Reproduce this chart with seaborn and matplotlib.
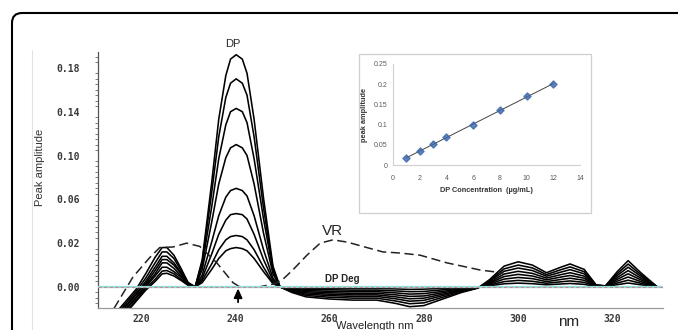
import numpy as np
import pandas as pd
import matplotlib
matplotlib.use("Agg")
import matplotlib.pyplot as plt
import seaborn as sns
from matplotlib.patches import FancyBboxPatch, Rectangle
from matplotlib.lines import Line2D

# ---------------- spectral data (first-derivative amplitudes) ----------------
# wavelength grids (nm) of the four regions of every DP trace
wl_left = [211, 214, 217, 219, 221, 223, 224.5, 225.5, 227, 228.5, 230, 231.5]
wl_peak = [233, 235, 236.5, 238, 239, 240.2, 241.5, 242.5, 244, 246, 248, 249.5]
wl_neg = [252, 255, 260, 265, 270, 274, 277, 280, 284, 288, 291.5]
wl_right = [294, 297, 300, 303, 306, 309, 311, 314, 316.5, 318.5, 321, 323.3, 326, 329.5]

# eight DP concentrations, highest first
dp_left = [
    [-0.042, -0.027, -0.012, -0.002, 0.012, 0.027, 0.036, 0.036, 0.029, 0.017, 0.004, 0.0],
    [-0.044, -0.029, -0.014, -0.004, 0.008, 0.022, 0.032, 0.032, 0.026, 0.015, 0.004, 0.0],
    [-0.046, -0.031, -0.016, -0.006, 0.005, 0.018, 0.028, 0.028, 0.022, 0.013, 0.003, 0.0],
    [-0.047, -0.032, -0.017, -0.007, 0.003, 0.015, 0.025, 0.025, 0.020, 0.012, 0.003, 0.0],
    [-0.049, -0.034, -0.019, -0.009, 0.0015, 0.012, 0.022, 0.022, 0.017, 0.010, 0.003, 0.0],
    [-0.050, -0.035, -0.020, -0.010, 0.0, 0.010, 0.018, 0.018, 0.014, 0.009, 0.002, 0.0],
    [-0.052, -0.037, -0.022, -0.012, -0.0015, 0.007, 0.0145, 0.015, 0.012, 0.007, 0.002, 0.0],
    [-0.053, -0.038, -0.023, -0.013, -0.003, 0.005, 0.012, 0.0125, 0.010, 0.006, 0.0015, 0.0],
]
dp_peak = [
    [0.025, 0.095, 0.153, 0.193, 0.208, 0.212, 0.208, 0.195, 0.153, 0.081, 0.019, 0.0],
    [0.023, 0.086, 0.137, 0.173, 0.186, 0.190, 0.186, 0.175, 0.137, 0.072, 0.017, 0.0],
    [0.020, 0.073, 0.117, 0.148, 0.160, 0.163, 0.160, 0.150, 0.117, 0.062, 0.015, 0.0],
    [0.016, 0.059, 0.094, 0.118, 0.127, 0.130, 0.127, 0.120, 0.094, 0.049, 0.012, 0.0],
    [0.011, 0.041, 0.065, 0.082, 0.088, 0.090, 0.088, 0.083, 0.065, 0.034, 0.008, 0.0],
    [0.008, 0.030, 0.048, 0.061, 0.066, 0.067, 0.066, 0.062, 0.048, 0.025, 0.006, 0.0],
    [0.006, 0.021, 0.034, 0.043, 0.046, 0.047, 0.046, 0.043, 0.034, 0.018, 0.004, 0.0],
    [0.004, 0.016, 0.026, 0.033, 0.035, 0.036, 0.035, 0.033, 0.026, 0.014, 0.003, 0.0],
]
dp_neg = [
    [-0.005, -0.009, -0.011, -0.012, -0.012, -0.015, -0.018, -0.017, -0.011, -0.005, -0.001],
    [-0.0042, -0.0077, -0.0094, -0.0102, -0.0102, -0.0128, -0.0153, -0.0145, -0.0094, -0.0043, -0.0008],
    [-0.0036, -0.0065, -0.0079, -0.0086, -0.0086, -0.0108, -0.0130, -0.0122, -0.0079, -0.0036, -0.0007],
    [-0.0030, -0.0054, -0.0066, -0.0072, -0.0072, -0.0090, -0.0108, -0.0102, -0.0066, -0.0030, -0.0006],
    [-0.0024, -0.0043, -0.0053, -0.0058, -0.0058, -0.0072, -0.0086, -0.0082, -0.0053, -0.0024, -0.0005],
    [-0.0018, -0.0032, -0.0040, -0.0043, -0.0043, -0.0054, -0.0065, -0.0061, -0.0040, -0.0018, -0.0004],
    [-0.0012, -0.0022, -0.0026, -0.0029, -0.0029, -0.0036, -0.0043, -0.0041, -0.0026, -0.0012, -0.0002],
    [-0.0006, -0.0011, -0.0013, -0.0014, -0.0014, -0.0018, -0.0022, -0.0020, -0.0013, -0.0006, -0.0001],
]
dp_right = [
    [0.0070, 0.0190, 0.0230, 0.0200, 0.0130, 0.0180, 0.0210, 0.0160, 0.0020, 0.0010, 0.0140, 0.0240, 0.0130, 0.0],
    [0.0061, 0.0165, 0.0200, 0.0174, 0.0113, 0.0157, 0.0183, 0.0139, 0.0017, 0.0009, 0.0122, 0.0209, 0.0113, 0.0],
    [0.0053, 0.0143, 0.0173, 0.0150, 0.0098, 0.0135, 0.0158, 0.0120, 0.0015, 0.0008, 0.0105, 0.0180, 0.0098, 0.0],
    [0.0043, 0.0118, 0.0143, 0.0124, 0.0081, 0.0112, 0.0130, 0.0099, 0.0012, 0.0006, 0.0087, 0.0149, 0.0081, 0.0],
    [0.0035, 0.0095, 0.0115, 0.0100, 0.0065, 0.0090, 0.0105, 0.0080, 0.0010, 0.0005, 0.0070, 0.0120, 0.0065, 0.0],
    [0.0027, 0.0072, 0.0087, 0.0076, 0.0049, 0.0068, 0.0080, 0.0061, 0.0008, 0.0004, 0.0053, 0.0091, 0.0049, 0.0],
    [0.0018, 0.0049, 0.0060, 0.0052, 0.0034, 0.0047, 0.0055, 0.0042, 0.0005, 0.0003, 0.0036, 0.0062, 0.0034, 0.0],
    [0.0011, 0.0029, 0.0035, 0.0030, 0.0020, 0.0027, 0.0032, 0.0024, 0.0003, 0.0002, 0.0021, 0.0036, 0.0020, 0.0],
]

# VR trace (dashed)
vr_wl = [214.3, 218.3, 221.9, 224.0, 226.8, 229.7, 232.5, 236.1, 239.5, 241.0, 245.0,
         248.4, 250.1, 252.2, 255.2, 258.0, 260.7, 263.7, 267.9, 271.3, 274.9, 279.2,
         284.9, 291.9, 296.8]
vr_amp = [-0.0195, 0.009, 0.027, 0.036, 0.0365, 0.040, 0.037, 0.022, 0.004, 0.0, 0.0,
          0.003, 0.007, 0.0155, 0.029, 0.040, 0.043, 0.041, 0.036, 0.032, 0.031, 0.029,
          0.022, 0.0155, 0.0128]

# DP degradation product trace (flat baseline)
deg_wl = [210.9, 330.7]
deg_amp = [0.0, 0.0]

# calibration inset
conc = [1, 2, 3, 4, 6, 8, 10, 12]
peak_amp = [0.017, 0.034, 0.052, 0.069, 0.100, 0.135, 0.170, 0.200]

# axis ticks
xtick_pos = [220, 240, 260, 280, 300, 320]
ytick_pos = [0.0, 0.04, 0.08, 0.12, 0.16, 0.20]
ytick_labels = ["0.00", "0.02", "0.06", "0.10", "0.14", "0.18"]
inset_xticks = [0, 2, 4, 6, 8, 10, 12, 14]
inset_yticks = [0, 0.05, 0.10, 0.15, 0.20, 0.25]
inset_ylabels = ["0", "0.05", "0.1", "0.15", "0.2", "0.25"]

# ---------------- long-form table for seaborn ----------------
wl_all = wl_left + wl_peak + wl_neg + wl_right
rows = []
for k in range(len(dp_peak)):
    vals = dp_left[k] + dp_peak[k] + dp_neg[k] + dp_right[k]
    for w, v in zip(wl_all, vals):
        rows.append({"wl": w, "amp": v, "curve": k})
dp_df = pd.DataFrame(rows)
vr_df = pd.DataFrame({"wl": vr_wl, "amp": vr_amp})
deg_df = pd.DataFrame({"wl": deg_wl, "amp": deg_amp})
cal_df = pd.DataFrame({"conc": conc, "amp": peak_amp})

sns.set_style("white")
plt.rcParams["font.family"] = ["Liberation Sans", "DejaVu Sans"]

W, H = 678, 330
fig = plt.figure(figsize=(W / 100, H / 100), dpi=100)
fig.patch.set_facecolor("white")

ax_l, ax_r, ax_t, ax_b = 98, 663, 52, 308
ax = fig.add_axes([ax_l / W, (H - ax_b) / H, (ax_r - ax_l) / W, (ax_b - ax_t) / H])
ax.set_facecolor("none")

sns.lineplot(data=dp_df, x="wl", y="amp", units="curve", estimator=None, sort=False,
             color="black", lw=1.15, ax=ax, legend=False)
sns.lineplot(data=vr_df, x="wl", y="amp", estimator=None, sort=False, color="#222222",
             lw=1.1, ax=ax, dashes=False, legend=False)
ax.lines[-1].set_linestyle((0, (6, 3)))
sns.lineplot(data=deg_df, x="wl", y="amp", estimator=None, sort=False, color="#8fdede",
             lw=1.6, ax=ax, legend=False, zorder=3)
ax.plot(deg_wl, deg_amp, color="#c98a8a", lw=0.8, ls=(0, (3, 2)), zorder=4)

ax.set_xlim(210.9, 330.7)
ax.set_ylim(-0.0192, 0.2145)
ax.set_xlabel("")
ax.set_ylabel("")

tick_font = dict(family="DejaVu Sans Mono", weight="bold", size=7)
ax.set_xticks(xtick_pos)
ax.set_xticklabels([str(v) for v in xtick_pos], color="#3a3a3a", fontdict=tick_font)
ax.set_yticks(ytick_pos)
ax.set_yticklabels(ytick_labels, color="#3a3a3a", fontdict=tick_font)
ax.set_yticks(np.arange(-0.015, 0.2145, 0.005), minor=True)
ax.tick_params(axis="y", which="major", direction="out", length=5, width=0.8,
               color="#555555", pad=8)
ax.tick_params(axis="y", which="minor", direction="out", length=2.5, width=0.6,
               color="#666666", left=True)
ax.tick_params(axis="x", which="major", direction="in", length=3, width=0.8,
               color="#888888", pad=4)
for side in ["top", "right"]:
    ax.spines[side].set_visible(False)
ax.spines["left"].set_color("#555555")
ax.spines["left"].set_linewidth(0.9)
ax.spines["bottom"].set_color("#999999")
ax.spines["bottom"].set_linewidth(0.9)

# annotations
ax.text(239.5, 0.2218, "DP", ha="center", va="center", fontsize=8, clip_on=False)
ax.text(260.7, 0.051, "VR", ha="center", va="center", fontsize=11)
ax.text(262.8, 0.0073, "DP Deg", ha="center", va="center", fontsize=7, fontweight="bold")
ax.annotate("", xy=(240.6, 0.0012), xytext=(240.6, -0.0165),
            arrowprops=dict(arrowstyle="-|>,head_length=0.55,head_width=0.25",
                            color="black", lw=1.3))

fig.text(40 / W, 1 - 167 / H, "Peak amplitude", rotation=90, ha="center", va="center",
         fontsize=8, color="#333333")
fig.text(375 / W, 1 - 326 / H, "Wavelength nm", ha="center", va="center",
         fontsize=8, color="#222222")
fig.text(569 / W, 1 - 322 / H, "nm", ha="center", va="center", fontsize=11,
         color="#222222")

# ---------------- calibration inset ----------------
box_l, box_r, box_t, box_b = 359, 591, 54, 213
fig.add_artist(Rectangle((box_l / W, (H - box_b) / H), (box_r - box_l) / W,
                         (box_b - box_t) / H, transform=fig.transFigure,
                         fc="none", ec="#cfcfcf", lw=0.9, zorder=2))
in_l, in_r, in_t, in_b = 393, 580, 64, 165
axi = fig.add_axes([in_l / W, (H - in_b) / H, (in_r - in_l) / W, (in_b - in_t) / H],
                   zorder=3)
axi.set_facecolor("none")
sns.regplot(data=cal_df, x="conc", y="amp", ci=None, ax=axi, marker="D",
            scatter_kws=dict(color="#3b66a8", s=13, edgecolor="#3b66a8", zorder=3),
            line_kws=dict(color="#444444", lw=0.7))
axi.set_xlim(0, 14)
axi.set_ylim(0, 0.25)
axi.set_xticks(inset_xticks)
axi.set_xticklabels([str(v) for v in inset_xticks])
axi.set_yticks(inset_yticks)
axi.set_yticklabels(inset_ylabels)
axi.tick_params(axis="x", length=0, labelsize=5, labelcolor="#595959", pad=7.5)
axi.tick_params(axis="y", length=0, labelsize=5, labelcolor="#595959", pad=4)
for side in ["top", "right"]:
    axi.spines[side].set_visible(False)
for side in ["left", "bottom"]:
    axi.spines[side].set_color("#d0d0d0")
    axi.spines[side].set_linewidth(0.8)
axi.set_xlabel("DP Concentration  (\u00b5g/mL)", fontsize=5.3, fontweight="bold",
               color="#333333", labelpad=3)
axi.set_ylabel("peak amplitude", fontsize=5.3, fontweight="bold", color="#333333",
               labelpad=4)

# ---------------- page frame ----------------
fig.add_artist(FancyBboxPatch((12, -40), 720, H - 13 + 40,
                              boxstyle="round,pad=0,rounding_size=10",
                              transform=None, fc="none", ec="black", lw=1.5, zorder=5))
fig.add_artist(Line2D([32, 32], [0, H - 50], transform=None, color="#e2e2e2", lw=0.8))

fig.savefig("out.png", dpi=100)
